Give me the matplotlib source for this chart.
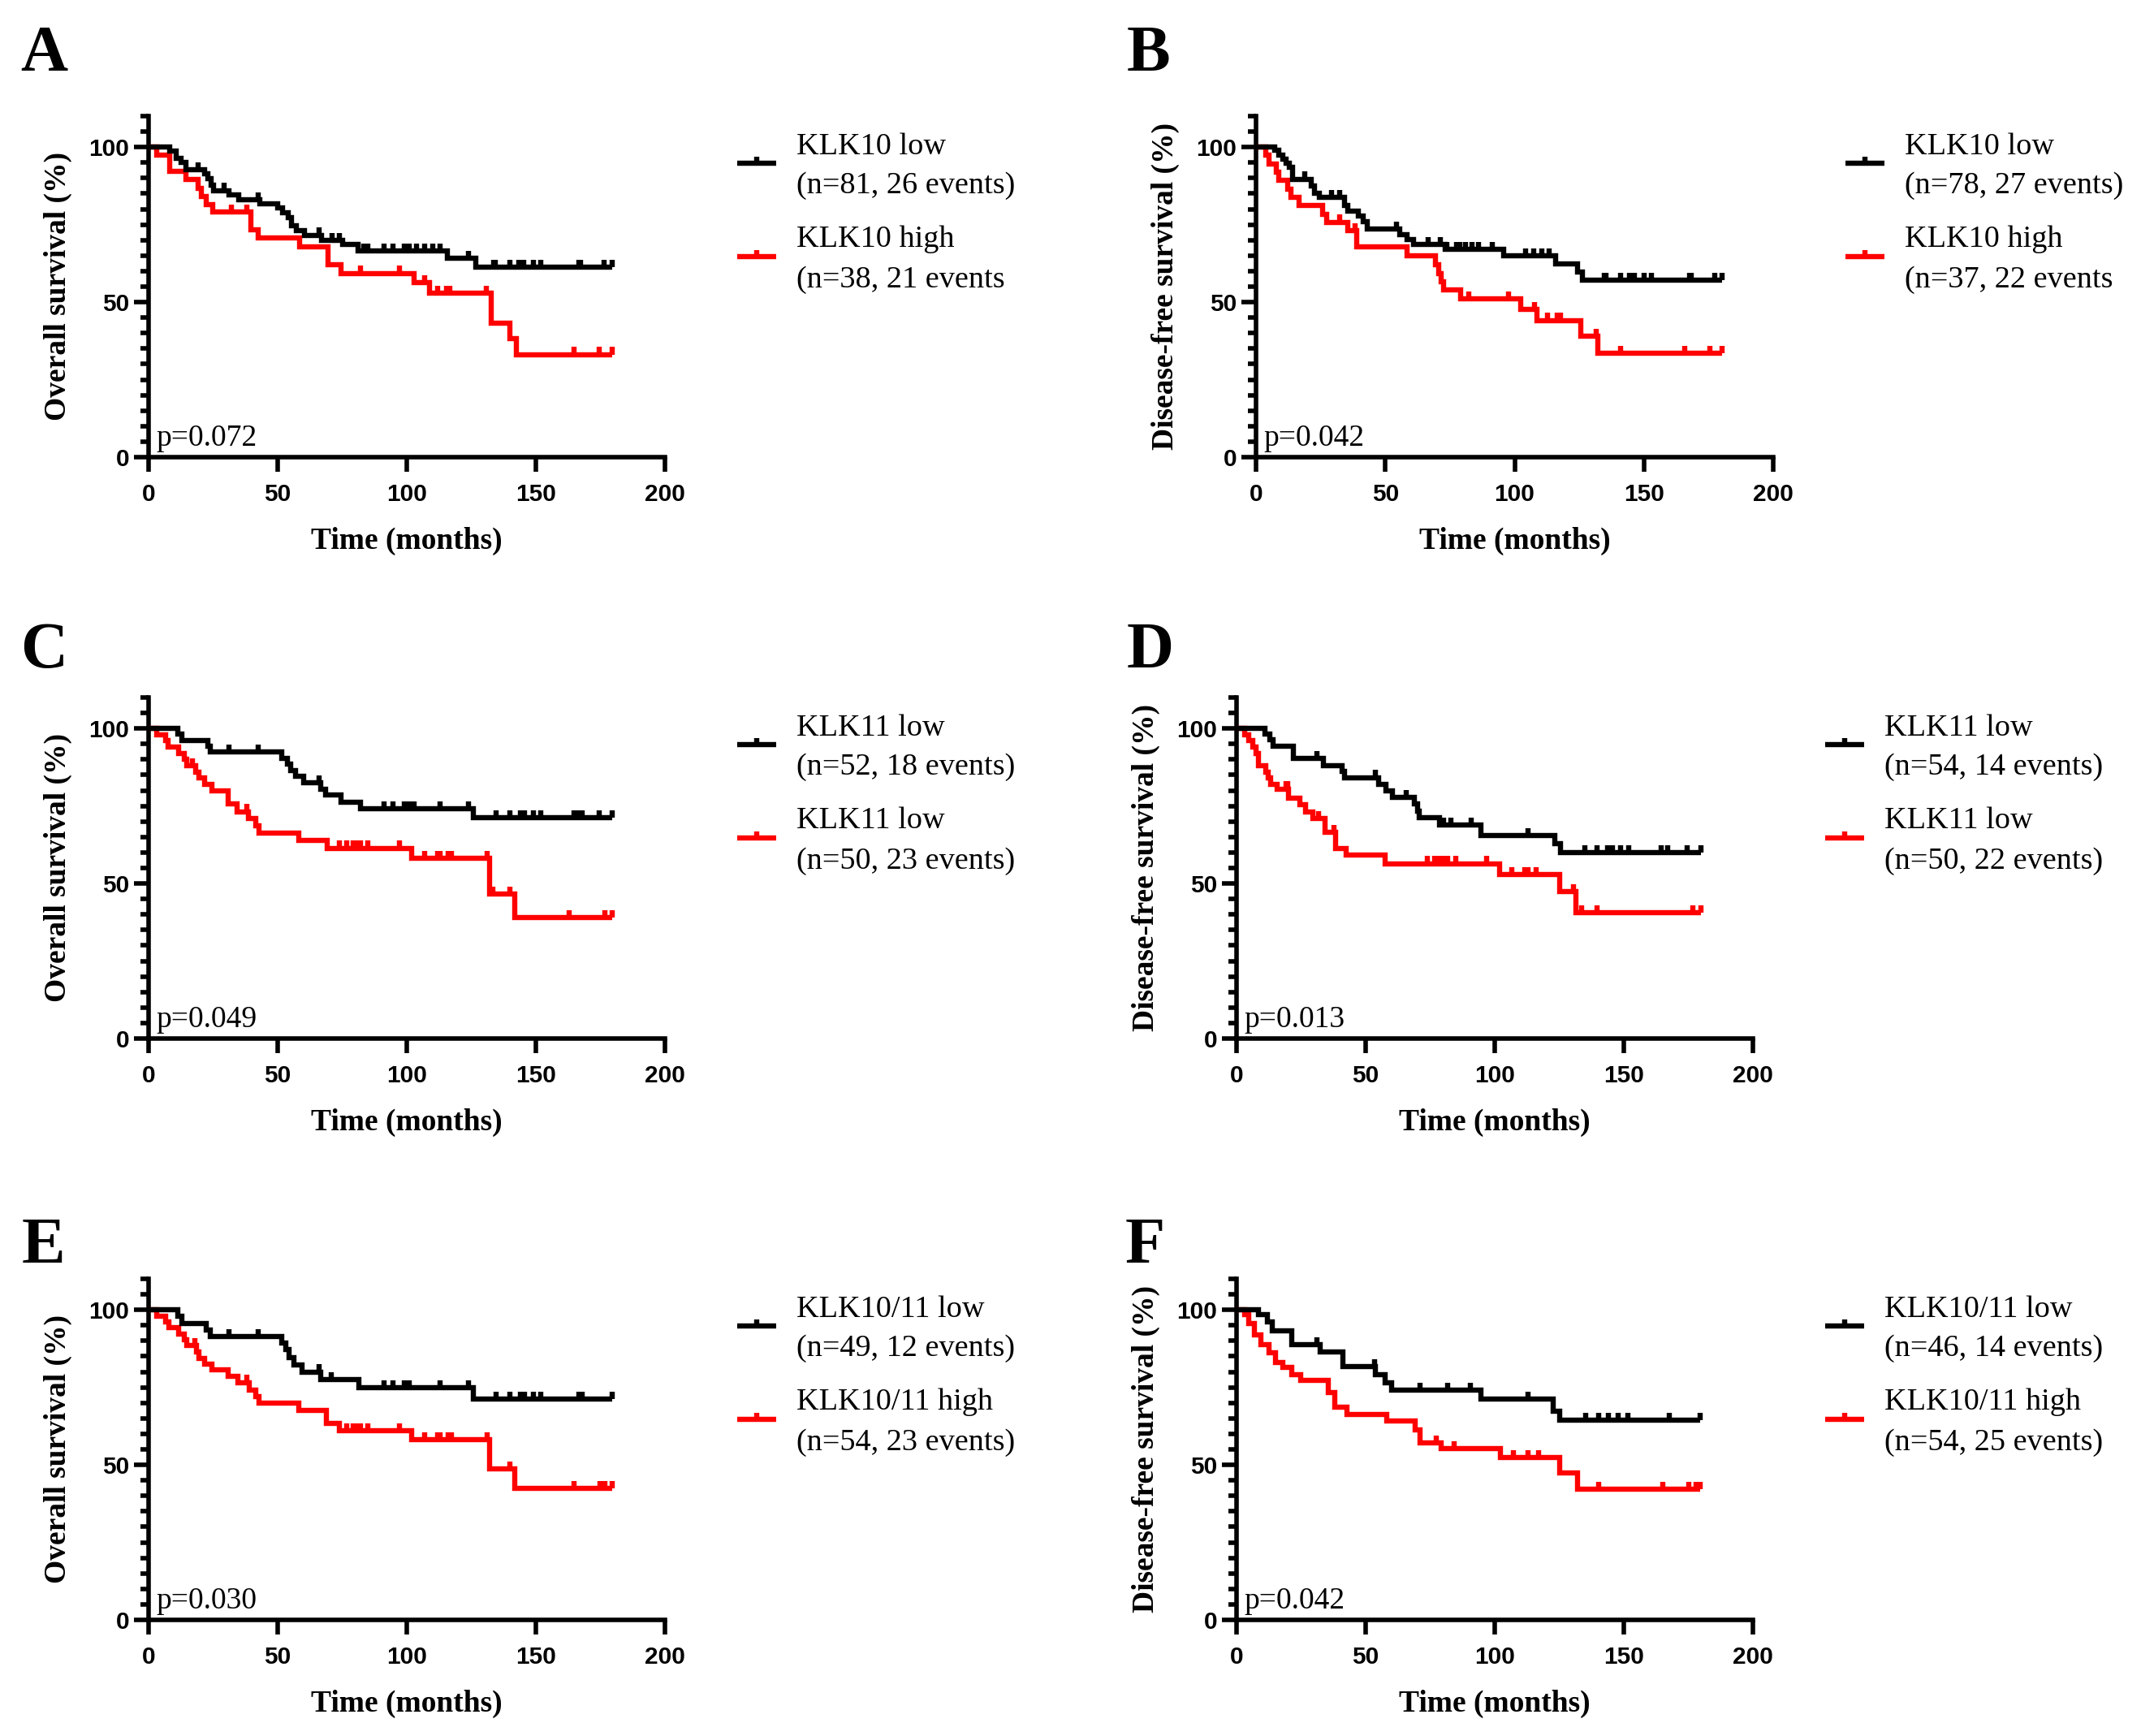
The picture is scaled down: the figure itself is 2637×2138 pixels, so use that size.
import matplotlib
matplotlib.use("Agg")
import matplotlib.pyplot as plt
import numpy as np
from matplotlib.ticker import MultipleLocator, FixedLocator

# ---------------- data ----------------
# Panel A: KLK10, overall survival
A_low_t = [0, 8.2, 10.7, 12.5, 14.4, 21.7, 23, 24.2, 25.2, 31, 35, 43, 50, 52, 54, 55.5, 57.3, 60.4, 67, 75, 81, 115.6, 126.6]
A_low_s = [100, 98.8, 96.3, 95.2, 92.6, 91.3, 89.9, 87.8, 86.0, 84.7, 83.1, 81.6, 80.3, 78.8, 77.3, 74.6, 73.1, 71.6, 70.0, 68.5, 66.6, 64.1, 61.3]
A_low_c = [19.1, 29.3, 42.3, 66.1, 71, 74, 83.2, 85, 91.1, 94.8, 99, 100.9, 103.9, 107, 110, 113, 124, 133.8, 134.4, 139.9, 143.5, 145.4, 149, 152, 166.7, 167.3, 176.5, 179.5]
A_high_t = [0, 3.3, 8.2, 14.4, 19.3, 20.5, 22.3, 24.8, 39.5, 42.6, 58.5, 69.6, 74.5, 102.7, 108.8, 132.8, 140, 142.6]
A_high_s = [100, 97.4, 92.1, 89.5, 86.8, 84.2, 81.5, 79.0, 73.3, 70.7, 67.8, 62.2, 59.3, 56.3, 52.8, 43.1, 38.3, 33.1]
A_high_c = [32, 38, 82, 97.2, 107, 111.8, 115.5, 116.7, 130.7, 164.9, 174.6, 179.5]

# Panel B: KLK10, disease-free survival
B_low_t = [0, 7.3, 8.9, 10.4, 11.6, 12.8, 14, 21.3, 22.6, 24.4, 34.1, 35.4, 39.6, 41.5, 43, 55.5, 58.5, 61, 73.2, 95.7, 115.9, 124.4, 126.2]
B_low_s = [100, 98.9, 97.4, 96.1, 94.8, 93.4, 89.7, 87.5, 85.1, 83.7, 81.1, 79.4, 77.9, 75.9, 73.5, 71.7, 70.3, 68.7, 67.1, 65.0, 62.4, 59.8, 57.1]
B_low_c = [18.9, 29.3, 32.3, 54.3, 66.5, 71.3, 73.8, 77.4, 78.7, 81.1, 83.5, 86, 91.5, 104.3, 107.3, 110.4, 113.4, 134.8, 135.4, 140.9, 144.5, 146.3, 150, 153, 167.7, 168.3, 177.4, 180.1]
B_high_t = [0, 3.7, 4.9, 7.9, 8.9, 12.2, 13.4, 16.5, 25.6, 27.4, 35.4, 39, 58.5, 69.5, 70.5, 71.5, 72.5, 79, 102.4, 108.5, 125.6, 132.3]
B_high_s = [100, 97.4, 94.5, 91.8, 89.2, 86.5, 83.8, 81.2, 78.2, 75.8, 73.1, 67.8, 64.9, 62.0, 59.3, 56.6, 53.9, 51.0, 47.6, 44.1, 38.9, 33.6]
B_high_c = [32.3, 38.4, 82.3, 97.6, 107.7, 112.6, 116.5, 117.7, 131.7, 140.9, 165.9, 175.6, 180.1]

# Panel C: KLK11, overall survival
C_low_t = [0, 11.2, 13.0, 22.8, 24, 51.5, 53.7, 55.1, 57, 60, 66.7, 68.5, 74.6, 82, 125.9]
C_low_s = [100, 98.1, 96.2, 94.3, 92.4, 90.4, 88.4, 86.4, 84.6, 82.4, 80.5, 78.6, 76.2, 74.1, 71.3]
C_low_c = [31, 42.3, 66.1, 91.1, 94.8, 99, 100.9, 102.7, 113, 124, 134.6, 139.9, 143.9, 145.7, 149, 152, 164.9, 166.7, 168, 174.6, 179.5]
C_high_t = [0, 3.3, 6.6, 7.6, 11.5, 13.7, 14.9, 18.3, 19.5, 21.6, 24.4, 30.7, 34.4, 38.7, 41.5, 42.7, 58.2, 69.1, 102, 132, 141.7]
C_high_s = [100, 98, 96, 94, 92, 90, 88, 86, 84, 82, 79.8, 75.8, 73.2, 71.0, 68.6, 66.2, 63.8, 61.4, 58.2, 46.6, 39.1]
C_high_c = [17.0, 38, 74, 76.8, 79.3, 80.7, 82, 85, 97.2, 107, 111.8, 113, 116.1, 117.3, 131, 133.2, 139.9, 163, 176.8, 179.5]

# Panel D: KLK11, disease-free survival
D_low_t = [0, 11, 12.8, 14, 22, 33.5, 40.9, 41.7, 54.9, 57.9, 60.4, 68.9, 70.1, 70.7, 78.7, 94.5, 123.2, 125.6]
D_low_s = [100, 98.2, 96.3, 94.2, 90.3, 88.1, 86.1, 84.2, 82.1, 80.0, 77.7, 75.6, 73.4, 71.3, 68.9, 65.5, 62.9, 60.0]
D_low_c = [31.1, 53.9, 65.6, 80.1, 82.9, 90.9, 112.8, 134.8, 139.6, 143.7, 145.5, 148.8, 151.8, 164.6, 167, 174.6, 179.9]
D_high_t = [0, 3, 4.6, 6.3, 7.6, 8.5, 11.2, 12.4, 13.2, 15.6, 20.1, 24.4, 26.8, 29.5, 34.4, 38.4, 42.4, 57.6, 101.8, 125, 131.5]
D_high_s = [100, 98, 96, 94, 92, 88, 86, 84, 82, 80.5, 77.6, 75.4, 73.2, 71.0, 66.4, 61.4, 59.1, 56.4, 52.9, 47.3, 40.5]
D_high_c = [19.1, 19.8, 31.7, 37.8, 73.8, 76.8, 78.7, 80.5, 81.7, 84.8, 97, 106.7, 111.6, 112.8, 115.9, 130.5, 133.5, 139.6, 176.6, 179.9]

# Panel E: KLK10/11, overall survival
E_low_t = [0, 11.2, 13, 22.2, 24, 51.5, 53.3, 54.5, 56.3, 59.4, 66.7, 81.3, 125.9]
E_low_s = [100, 97.9, 95.6, 93.5, 91.3, 89.2, 87.1, 84.6, 82.2, 80.0, 77.4, 74.8, 71.3]
E_low_c = [31, 42.3, 66.1, 70.7, 91.1, 94.8, 99, 100.9, 113, 124, 134.6, 139.9, 143.9, 145.7, 149, 152, 166.7, 168, 179.5]
E_high_t = [0, 3.3, 6.6, 7.8, 11.5, 13.7, 14.9, 18.5, 19.5, 21.8, 24.4, 30.7, 34.6, 39, 41.5, 42.7, 58.2, 68.9, 74, 102, 132, 141.7]
E_high_s = [100, 98.0, 96.1, 94.2, 92.3, 90.4, 88.6, 86.4, 84.4, 82.5, 80.6, 78.6, 76.6, 74.2, 72.0, 69.8, 67.6, 63.3, 61.1, 58.2, 48.6, 42.3]
E_high_c = [17.8, 38, 76.8, 79.3, 80.7, 82, 85, 97.2, 107, 111.8, 113, 116, 117.3, 131, 139.9, 164.9, 174.9, 176.8, 179.5]

# Panel F: KLK10/11, disease-free survival
F_low_t = [0, 8.6, 11.9, 13.7, 21.3, 32.3, 41.2, 53.9, 57.7, 60.2, 94.5, 122.5, 125]
F_low_s = [100, 98.6, 96.0, 93.2, 88.8, 86.3, 81.7, 79.2, 76.6, 74.2, 71.3, 67.3, 64.4]
F_low_c = [31, 53.5, 71.2, 81.8, 90.7, 112.8, 135.2, 140.3, 144.1, 147.9, 151.7, 167.7, 179.7]
F_high_t = [0, 3, 4.8, 6.9, 9.4, 12.7, 15, 17.8, 21.3, 24.7, 35.6, 37.9, 42.9, 58.2, 69.1, 71.2, 79.3, 102.2, 125, 132.1]
F_high_s = [100, 98.6, 95.6, 92.0, 88.8, 86.1, 83.1, 81.4, 79.2, 77.2, 73.3, 68.5, 66.2, 64.1, 61.2, 57.0, 55.2, 52.3, 47.5, 42.2]
F_high_c = [77.3, 84.4, 107.2, 112.8, 116.9, 140.3, 165.2, 175.3, 177.9, 179.7]

panel_letters = ["A", "B", "C", "D", "E", "F"]
y_labels = ["Overall survival (%)", "Disease-free survival (%)"] * 3
p_values = ["p=0.072", "p=0.042", "p=0.049", "p=0.013", "p=0.030", "p=0.042"]
legend_names = [("KLK10 low", "KLK10 high"), ("KLK10 low", "KLK10 high"),
                ("KLK11 low", "KLK11 low"), ("KLK11 low", "KLK11 low"),
                ("KLK10/11 low", "KLK10/11 high"), ("KLK10/11 low", "KLK10/11 high")]
legend_counts = [("(n=81, 26 events)", "(n=38, 21 events"), ("(n=78, 27 events)", "(n=37, 22 events"),
                 ("(n=52, 18 events)", "(n=50, 23 events)"), ("(n=54, 14 events)", "(n=50, 22 events)"),
                 ("(n=49, 12 events)", "(n=54, 23 events)"), ("(n=46, 14 events)", "(n=54, 25 events)")]
x_ticks = [0, 50, 100, 150, 200]
y_ticks = [0, 50, 100]

curves = [
    ((A_low_t, A_low_s, A_low_c), (A_high_t, A_high_s, A_high_c)),
    ((B_low_t, B_low_s, B_low_c), (B_high_t, B_high_s, B_high_c)),
    ((C_low_t, C_low_s, C_low_c), (C_high_t, C_high_s, C_high_c)),
    ((D_low_t, D_low_s, D_low_c), (D_high_t, D_high_s, D_high_c)),
    ((E_low_t, E_low_s, E_low_c), (E_high_t, E_high_s, E_high_c)),
    ((F_low_t, F_low_s, F_low_c), (F_high_t, F_high_s, F_high_c)),
]

# ---------------- layout / style ----------------
W, H, DPI = 2637, 2138, 100
fig = plt.figure(figsize=(W / DPI, H / DPI), dpi=DPI)
SERIF = ["Liberation Serif", "DejaVu Serif"]
SANS = ["Liberation Sans", "DejaVu Sans"]
COLORS = ["#000000", "#FF0000"]
LW = 4.6
SPW = 4.0

col_left = [183, 1547, 183, 1523, 183, 1523]
col_width = [636, 637, 636, 636, 636, 636]
row_y0 = [563, 563, 1279, 1279, 1995, 1995]
AX_H = 420
letter_pos = [(25, 87), (1388, 87), (25, 822), (1388, 822), (27, 1555), (1386, 1555)]

for i in range(6):
    l, w, y0 = col_left[i], col_width[i], row_y0[i]
    ax = fig.add_axes([l / W, 1 - y0 / H, w / W, AX_H / H])
    ax.set_xlim(0, 200)
    ax.set_ylim(0, 110)
    for sp in ("top", "right"):
        ax.spines[sp].set_visible(False)
    for sp in ("left", "bottom"):
        ax.spines[sp].set_linewidth(SPW)
        ax.spines[sp].set_capstyle("projecting")
    ax.xaxis.set_major_locator(FixedLocator(x_ticks))
    ax.yaxis.set_major_locator(FixedLocator(y_ticks))
    ax.yaxis.set_minor_locator(MultipleLocator(5))
    ax.tick_params(axis="both", which="major", length=13, width=SPW, direction="out")
    ax.tick_params(axis="y", which="minor", length=7, width=SPW)
    ax.tick_params(axis="x", pad=10)
    ax.tick_params(axis="y", pad=4)
    for lab in ax.get_xticklabels() + ax.get_yticklabels():
        lab.set_family(SANS)
        lab.set_fontweight("bold")
        lab.set_fontsize(21.5)

    # curves: black (low) drawn on top of red (high)
    for g in (1, 0):
        t, s, c = curves[i][g]
        t = np.asarray(t, float)
        s = np.asarray(s, float)
        c = np.asarray(c, float)
        t_end = max(t[-1], c.max())
        tt = np.append(t, t_end)
        ss = np.append(s, s[-1])
        ax.step(tt, ss, where="post", color=COLORS[g], lw=LW,
                solid_joinstyle="miter", solid_capstyle="butt",
                zorder=3 + (1 - g), clip_on=False)
        idx = np.searchsorted(t, c, side="right") - 1
        sc = s[idx]
        ax.vlines(c, sc, sc + 2.4, color=COLORS[g], lw=LW,
                  capstyle="butt", zorder=3 + (1 - g), clip_on=False)

    ax.text(3.0, 3.7, p_values[i], family=SERIF, fontsize=27, va="baseline", ha="left")

    ax.set_xlabel("Time (months)", family=SERIF, fontweight="bold", fontsize=27)
    ax.xaxis.set_label_coords(0.5, -0.205)
    ax.set_ylabel(y_labels[i], family=SERIF, fontweight="bold", fontsize=27)
    ax.yaxis.set_label_coords(-0.148, 0.5)

    # legend (manual)
    for g, (ly, tb1, tb2) in enumerate([(94.8, 97.7, 85.1), (64.7, 67.8, 54.7)]):
        ax.plot([228, 243], [ly, ly], color=COLORS[g], lw=LW,
                solid_capstyle="butt", clip_on=False)
        ax.vlines([235.5], ly, ly + 2.2, color=COLORS[g], lw=LW, capstyle="butt", clip_on=False)
        ax.text(251, tb1, legend_names[i][g], family=SERIF, fontsize=27.5,
                va="baseline", ha="left", clip_on=False)
        ax.text(251, tb2, legend_counts[i][g], family=SERIF, fontsize=27.5,
                va="baseline", ha="left", clip_on=False)

    lx, lyb = letter_pos[i]
    fig.text(lx / W, 1 - lyb / H, panel_letters[i], family=SERIF, fontweight="bold",
             fontsize=58, va="baseline", ha="left")

fig.savefig("out.png", dpi=DPI, facecolor="white")
